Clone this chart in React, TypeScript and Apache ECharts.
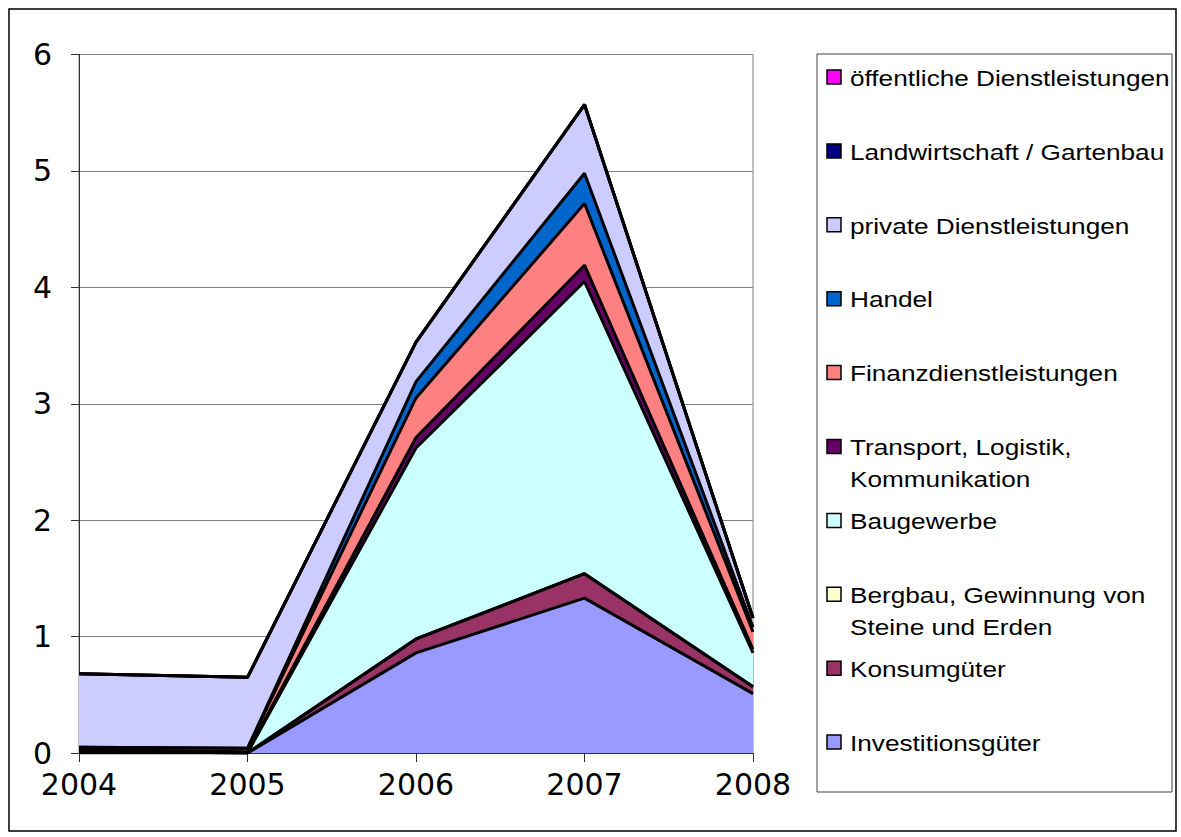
import React, { useEffect, useRef } from "react";
import * as echarts from "echarts";

const years = ["2004", "2005", "2006", "2007", "2008"];

// series, bottom to top
const seriesNames = [
  "Investitionsgüter",
  "Konsumgüter",
  "Bergbau, Gewinnung von\nSteine und Erden",
  "Baugewerbe",
  "Transport, Logistik,\nKommunikation",
  "Finanzdienstleistungen",
  "Handel",
  "private Dienstleistungen",
  "Landwirtschaft / Gartenbau",
  "öffentliche Dienstleistungen",
];
const seriesColors = [
  "#9999FF",
  "#993366",
  "#FFFFCC",
  "#CCFFFF",
  "#660066",
  "#FF8080",
  "#0066CC",
  "#CCCCFF",
  "#000080",
  "#FF00FF",
];

const investitionsgueter = [0, 0, 0.86, 1.33, 0.51];
const konsumgueter = [0.02, 0, 0.12, 0.21, 0.06];
const bergbau = [0, 0, 0, 0, 0];
const baugewerbe = [0, 0, 1.64, 2.51, 0.29];
const transport = [0.01, 0.01, 0.09, 0.14, 0.03];
const finanz = [0.02, 0.03, 0.34, 0.53, 0.15];
const handel = [0, 0, 0.14, 0.26, 0.04];
const privateDL = [0.63, 0.61, 0.34, 0.59, 0.08];
const landwirtschaft = [0, 0, 0, 0, 0];
const oeffentlich = [0, 0, 0, 0, 0];

const seriesValues = [
  investitionsgueter,
  konsumgueter,
  bergbau,
  baugewerbe,
  transport,
  finanz,
  handel,
  privateDL,
  landwirtschaft,
  oeffentlich,
];

const FONT = "'Liberation Sans', Arial, sans-serif";
const AXIS_FONT = "'DejaVu Sans', sans-serif";

export default function App() {
  const ref = useRef<HTMLDivElement>(null);
  useEffect(() => {
    if (!ref.current) return;
    const chart = echarts.init(ref.current, null, { renderer: "svg" });

    const legendGraphics: any[] = [];
    const order = seriesNames.map((_, i) => seriesNames.length - 1 - i);
    order.forEach((si, k) => {
      const cy = 78 + 73.9 * k;
      legendGraphics.push({
        type: "rect",
        shape: { x: 827, y: cy - 8, width: 14, height: 14 },
        style: { fill: seriesColors[si], stroke: "#000", lineWidth: 1.5 },
      });
      legendGraphics.push({
        type: "text",
        x: 850,
        y: cy - 16,
        scaleX: 1.19,
        style: {
          text: seriesNames[si],
          fontSize: 22,
          fontFamily: FONT,
          fill: "#000",
          lineHeight: 32,
          verticalAlign: "top",
          align: "left",
        },
      });
    });

    chart.setOption({
      animation: false,
      backgroundColor: "#fff",
      grid: {
        left: 79,
        top: 54.5,
        right: 428,
        bottom: 84,
        show: true,
        borderColor: "#808080",
        borderWidth: 1,
      },
      xAxis: {
        type: "category",
        data: years,
        boundaryGap: false,
        axisLine: { show: true, lineStyle: { color: "#333", width: 1 } },
        axisTick: { show: true, length: 9, lineStyle: { color: "#333" } },
        axisLabel: {
          interval: 0,
          fontSize: 30,
          fontFamily: AXIS_FONT,
          color: "#000",
          margin: 16,
        },
        splitLine: { show: false },
      },
      yAxis: {
        type: "value",
        min: 0,
        max: 6,
        interval: 1,
        axisLine: { show: true, lineStyle: { color: "#333", width: 1 } },
        axisTick: { show: true, length: 8, lineStyle: { color: "#333" } },
        axisLabel: {
          fontSize: 30,
          fontFamily: AXIS_FONT,
          color: "#000",
          margin: 27,
          padding: [0, 0, 6, 0],
        },
        splitLine: { show: true, lineStyle: { color: "#808080", width: 1 } },
      },
      series: seriesNames.map((name, i) => ({
        name,
        type: "line",
        stack: "total",
        data: seriesValues[i],
        symbol: "none",
        showSymbol: false,
        lineStyle: { color: "#000", width: 3 },
        areaStyle: { color: seriesColors[i], opacity: 1 },
        itemStyle: { color: seriesColors[i] },
        z: 2,
      })),
      graphic: [
        {
          type: "rect",
          shape: { x: 9, y: 9, width: 1167, height: 822 },
          style: { fill: "none", stroke: "#000", lineWidth: 1.5 },
          silent: true,
        },
        {
          type: "rect",
          shape: { x: 817, y: 54, width: 355, height: 738 },
          style: { fill: "#fff", stroke: "#404040", lineWidth: 1 },
          silent: true,
        },
        ...legendGraphics,
      ],
    });
    return () => chart.dispose();
  }, []);

  return (
    <div
      ref={ref}
      style={{ position: "absolute", left: 0, top: 0, width: 1181, height: 837 }}
    />
  );
}
